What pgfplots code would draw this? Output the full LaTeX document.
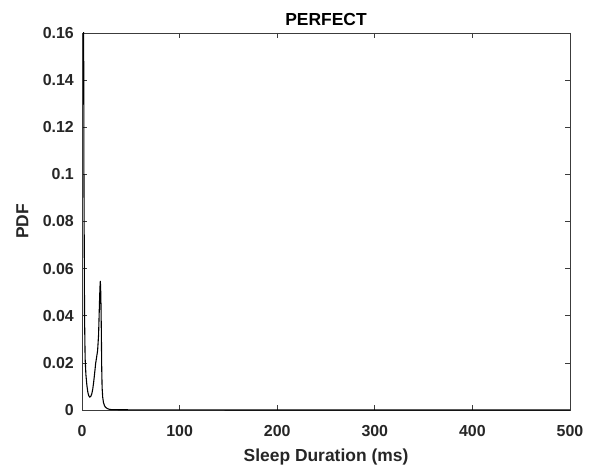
\documentclass[border=0pt]{standalone}
\usepackage{fontspec}
\setmainfont{Liberation Sans}
\usepackage{pgfplots}
\pgfplotsset{compat=1.18}
\usetikzlibrary{calc}
\definecolor{axgray}{RGB}{60,60,60}
\begin{document}
\begin{tikzpicture}
\begin{axis}[
  scale only axis, width=488bp, height=377bp,
  xmin=0, xmax=500, ymin=0, ymax=0.16,
  xtick={0,100,200,300,400,500},
  ytick={0,0.02,0.04,0.06,0.08,0.1,0.12,0.14,0.16},
  yticklabels={0,0.02,0.04,0.06,0.08,0.1,0.12,0.14,0.16},
  scaled y ticks=false,
  tick align=inside, tickpos=both, major tick length=5bp,
  axis line style={axgray, line width=0.7pt},
  every tick/.style={axgray, line width=0.7pt},
  /pgf/number format/assume math mode=true,
  tick label style={font=\fontsize{16}{18}\selectfont\bfseries, text=black!85},
  xticklabel style={anchor=base, yshift=-26.5bp},
  yticklabel style={anchor=east, inner sep=0pt, xshift=-8bp},
  every axis title shift=0pt,
  title={PERFECT},
  title style={font=\fontsize{17.5}{19}\selectfont\bfseries, at={(axis description cs:0.5,1.0212)}, anchor=base},
  xlabel={Sleep Duration (ms)},
  ylabel={PDF},
  xlabel style={font=\fontsize{17.5}{19}\selectfont\bfseries, text=black!85, at={(axis description cs:0.5,-0.1353)}, anchor=base},
  ylabel style={font=\fontsize{17.5}{19}\selectfont\bfseries, text=black!85, at={(axis description cs:-0.110,0.5)}, anchor=base},
]
\addplot[black, line width=1.1pt] coordinates {
(0,0.30) (1.2,0.25) (2,0.1) (2.6,0.04) (3.2,0.022) (4,0.015) (5,0.0105) (6,0.0075) (7,0.006) (8,0.0055) (9,0.0058) (10,0.0068) (11,0.0088) (12,0.012) (13,0.0158) (14,0.0198) (15,0.0225) (16,0.0252) (17,0.032) (17.8,0.044) (18.4,0.052) (18.8,0.0548) (19.3,0.049) (19.8,0.034) (20.2,0.018) (20.6,0.0095) (21.2,0.0055) (22,0.0032) (23,0.0019) (24,0.0012) (26,0.0006) (28,0.0003) (30,0.00018) (40,0.0001) (60,0.00006) (100,0.00003) (200,0.00001) (300,0.000005) (400,0.000002) (500,0)
};
\end{axis}
\pgfresetboundingbox
\path ($(current axis.south west)+(-82bp,-58bp)$) rectangle ($(current axis.north east)+(19bp,33bp)$);
\end{tikzpicture}
\end{document}
